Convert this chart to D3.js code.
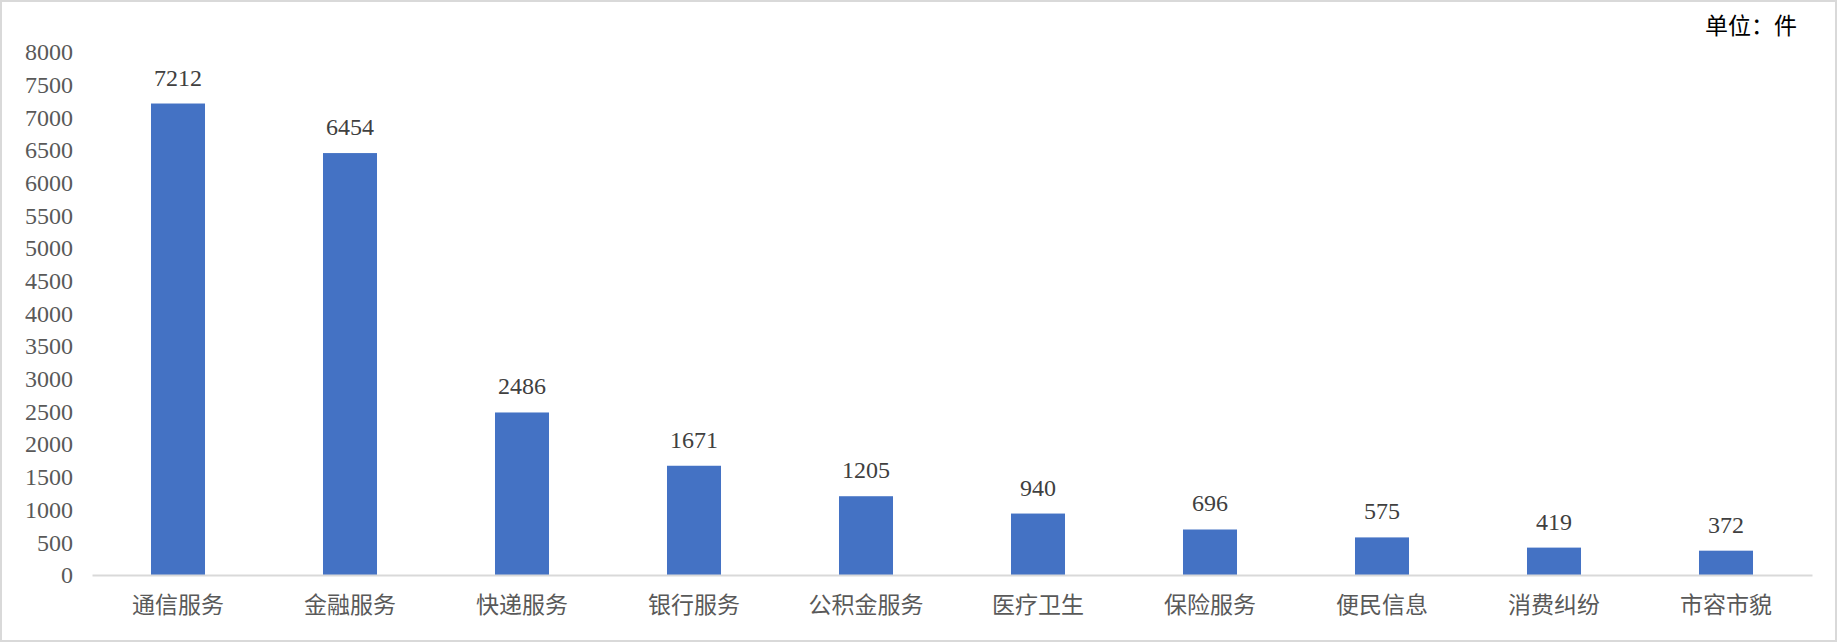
<!DOCTYPE html>
<html>
<head>
<meta charset="utf-8">
<script src="https://cdn.jsdelivr.net/npm/d3@7"></script>
<style>
    body { margin: 0; background: #fff; }
    svg { display: block; }
    .tick text { font-family: "Liberation Serif", "Times New Roman", serif; }
</style>
</head>
<body>
<svg width="1837" height="642"></svg>
<script>
const width = 1837;
const height = 642;

// data
const categories = ["通信服务", "金融服务", "快递服务", "银行服务", "公积金服务",
    "医疗卫生", "保险服务", "便民信息", "消费纠纷", "市容市貌"];
const counts = [7212, 6454, 2486, 1671, 1205, 940, 696, 575, 419, 372];
const yTicks = d3.range(0, 8001, 500);
const unitLabel = "单位：件";

const margin = { top: 52, right: 25, bottom: 67, left: 92 };

const svg = d3.select("svg");

// outer frame
svg.append("rect")
    .attr("x", 1)
    .attr("y", 1)
    .attr("width", width - 2)
    .attr("height", height - 2)
    .attr("fill", "#fff")
    .attr("stroke", "#d9d9d9")
    .attr("stroke-width", 2);

// x scale
const xScale = d3.scaleBand()
    .domain(categories)
    .range([margin.left, width - margin.right])
    .paddingInner(0.686)
    .paddingOuter(0.343);

// y scale
const yScale = d3.scaleLinear()
    .domain([0, 8000])
    .range([height - margin.bottom, margin.top]);

// y axis (labels only)
const yAxis = svg.append("g")
    .attr("transform", `translate(${margin.left},0)`)
    .call(d3.axisLeft(yScale)
        .tickValues(yTicks)
        .tickFormat(d3.format("d"))
        .tickSize(0)
        .tickPadding(19));
yAxis.select(".domain").remove();
yAxis.selectAll("text")
    .style("font-size", "24px")
    .attr("fill", "#595959");

// bars
svg.selectAll(".bar")
    .data(counts)
    .join("rect")
    .attr("class", "bar")
    .attr("x", (d, i) => xScale(categories[i]))
    .attr("y", d => yScale(d))
    .attr("width", xScale.bandwidth())
    .attr("height", d => yScale(0) - yScale(d))
    .attr("fill", "#4472c4");

// x axis
const xAxis = svg.append("g")
    .attr("transform", `translate(0,${yScale(0)})`)
    .call(d3.axisBottom(xScale).tickSize(0).tickPadding(22));
xAxis.select(".domain")
    .attr("stroke", "#d9d9d9")
    .attr("stroke-width", 2);
xAxis.selectAll("text")
    .style("font-family", "'Noto Sans CJK SC', sans-serif")
    .style("font-size", "23px")
    .attr("fill", "#595959");

// value labels
svg.selectAll(".value")
    .data(counts)
    .join("text")
    .attr("class", "value")
    .attr("x", (d, i) => xScale(categories[i]) + xScale.bandwidth() / 2)
    .attr("y", d => yScale(d) - 18)
    .attr("text-anchor", "middle")
    .style("font-family", "'Liberation Serif', 'Times New Roman', serif")
    .style("font-size", "24px")
    .attr("fill", "#404040")
    .text(d => d);

// unit
svg.append("text")
    .attr("x", 1797)
    .attr("y", 34)
    .attr("text-anchor", "end")
    .style("font-family", "'Noto Sans CJK SC', sans-serif")
    .style("font-size", "23px")
    .attr("fill", "#000")
    .text(unitLabel);
</script>
</body>
</html>
